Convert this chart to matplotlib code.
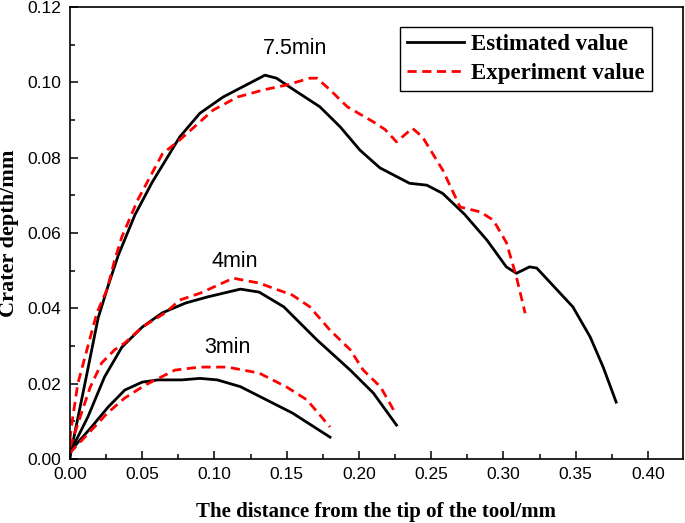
import matplotlib
matplotlib.use("Agg")
import matplotlib.pyplot as plt
from matplotlib.ticker import MultipleLocator, FormatStrFormatter

# 7.5 min
est75_x = [0.0, 0.001, 0.0104, 0.0196, 0.0265, 0.0334, 0.045, 0.057, 0.0705, 0.076, 0.090, 0.106,
           0.122, 0.135, 0.143, 0.155, 0.173, 0.187, 0.2007, 0.2145, 0.225, 0.235, 0.247, 0.258,
           0.273, 0.2886, 0.302, 0.309, 0.318, 0.323, 0.332, 0.348, 0.360, 0.369, 0.378]
est75_y = [0.0, 0.0024, 0.020, 0.0375, 0.0460, 0.0540, 0.0648, 0.0735, 0.082, 0.0855, 0.0918, 0.0961,
           0.0993, 0.1019, 0.1011, 0.098, 0.0935, 0.0882, 0.082, 0.0773, 0.0752, 0.0732, 0.0727, 0.0705,
           0.0650, 0.0581, 0.051, 0.0493, 0.051, 0.0507, 0.047, 0.0404, 0.0324, 0.0244, 0.0151]
exp75_x = [0.0, 0.001, 0.0055, 0.0104, 0.0187, 0.0256, 0.031, 0.036, 0.047, 0.057, 0.064, 0.076,
           0.099, 0.116, 0.134, 0.150, 0.166, 0.171, 0.180, 0.192, 0.210, 0.218, 0.226, 0.237,
           0.244, 0.258, 0.270, 0.284, 0.293, 0.302, 0.309, 0.315]
exp75_y = [0.005, 0.0085, 0.020, 0.027, 0.0388, 0.0449, 0.0528, 0.059, 0.0688, 0.076, 0.081, 0.0847,
           0.0926, 0.0961, 0.098, 0.0993, 0.1011, 0.1011, 0.098, 0.0935, 0.0895, 0.0875, 0.0842, 0.0878,
           0.0855, 0.0767, 0.0669, 0.0656, 0.0634, 0.0575, 0.0483, 0.0387]

# 4 min
est4_x = [0.0, 0.001, 0.0125, 0.024, 0.036, 0.050, 0.064, 0.080, 0.095, 0.118, 0.131, 0.148,
          0.171, 0.194, 0.210, 0.226]
est4_y = [0.0015, 0.0024, 0.0112, 0.0218, 0.0297, 0.035, 0.0388, 0.0414, 0.043, 0.0451, 0.0443, 0.0404,
          0.0316, 0.0236, 0.0175, 0.009]
exp4_x = [0.0, 0.007, 0.014, 0.022, 0.031, 0.038, 0.050, 0.066, 0.076, 0.090, 0.113, 0.131,
          0.154, 0.166, 0.180, 0.194, 0.203, 0.215, 0.224]
exp4_y = [0.003, 0.011, 0.019, 0.0255, 0.029, 0.0308, 0.035, 0.0388, 0.0422, 0.044, 0.048, 0.0467,
          0.0435, 0.0404, 0.0342, 0.029, 0.0236, 0.0191, 0.013]

# 3 min
est3_x = [0.0, 0.001, 0.015, 0.0265, 0.038, 0.050, 0.061, 0.0775, 0.090, 0.102, 0.118, 0.136,
          0.154, 0.180]
est3_y = [0.0015, 0.0024, 0.0085, 0.0138, 0.0183, 0.0204, 0.021, 0.021, 0.0214, 0.021, 0.0192, 0.0157,
          0.0122, 0.0058]
exp3_x = [0.0, 0.017, 0.026, 0.038, 0.052, 0.0727, 0.090, 0.109, 0.131, 0.150, 0.164, 0.180]
exp3_y = [0.0016, 0.0085, 0.0122, 0.0162, 0.0196, 0.0236, 0.0244, 0.0244, 0.0228, 0.0191, 0.0157, 0.0085]

labels = ["7.5min", "4min", "3min"]
label_pos = [(0.156, 0.109), (0.114, 0.0523), (0.109, 0.0295)]

fig = plt.figure(figsize=(6.85, 5.23), dpi=100)
ax = fig.add_axes([0.102, 0.1224, 0.895, 0.8642])

lw = 2.0
dash = (3.3, 2.0)
ax.plot(est75_x, est75_y, color='black', lw=lw, label='Estimated value')
ax.plot(exp75_x, exp75_y, color='red', lw=lw, ls=(0, dash), label='Experiment value')
ax.plot(est4_x, est4_y, color='black', lw=lw)
ax.plot(exp4_x, exp4_y, color='red', lw=lw, ls=(0, dash))
ax.plot(est3_x, est3_y, color='black', lw=lw)
ax.plot(exp3_x, exp3_y, color='red', lw=lw, ls=(0, dash))

for t, (x, y) in zip(labels, label_pos):
    ax.text(x, y, t, ha='center', va='center', fontsize=15.5, family='Liberation Sans')

ax.set_xlim(0, 0.4242)
ax.set_ylim(0, 0.12)
ax.xaxis.set_major_locator(MultipleLocator(0.05))
ax.xaxis.set_minor_locator(MultipleLocator(0.025))
ax.yaxis.set_major_locator(MultipleLocator(0.02))
ax.yaxis.set_minor_locator(MultipleLocator(0.01))
ax.xaxis.set_major_formatter(FormatStrFormatter('%.2f'))
ax.yaxis.set_major_formatter(FormatStrFormatter('%.2f'))
ax.tick_params(which='both', direction='in', top=False, right=False, width=1.1)
ax.tick_params(which='major', length=6, labelsize=12.5, pad=6)
ax.tick_params(which='minor', length=3.5)
for lab in ax.get_xticklabels() + ax.get_yticklabels():
    lab.set_family('Liberation Sans')
for s in ax.spines.values():
    s.set_linewidth(1.2)

ax.set_xlabel('The distance from the tip of the tool/mm', family='Liberation Serif',
              fontweight='bold', fontsize=15, labelpad=14)
ax.set_ylabel('Crater depth/mm', family='Liberation Serif', fontweight='bold',
              fontsize=16, labelpad=6)

leg = ax.legend(loc='upper right', bbox_to_anchor=(0.949, 0.955), fancybox=False,
                edgecolor='black', framealpha=1, handlelength=2.5, borderpad=0.3,
                labelspacing=0.35, handletextpad=0.3, borderaxespad=0,
                prop={'family': 'Liberation Serif', 'weight': 'bold', 'size': 16.5})
leg.get_frame().set_linewidth(1.0)

fig.savefig('out.png', dpi=100)
